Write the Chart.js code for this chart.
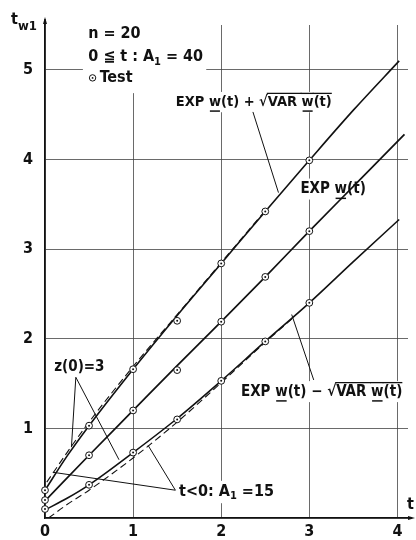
<!DOCTYPE html>
<html>
<head>
<meta charset="utf-8">
<script src="https://cdn.jsdelivr.net/npm/chart.js@4.4.0/dist/chart.umd.min.js"></script>
<style>
  html, body { margin: 0; padding: 0; background: #fff; }
  #wrap { width: 416px; height: 540px; }
</style>
</head>
<body>
<div id="wrap"><canvas id="chart" width="416" height="540"></canvas></div>
<script>
// curve samples
const tSolid = [0, 0.25, 0.5, 1, 1.5, 2, 2.5, 3, 3.5, 4.02];
const upperSolid = [0.31, 0.69, 1.03, 1.66, 2.26, 2.84, 3.42, 3.99, 4.55, 5.10];
const lowerSolid = [0.09, 0.22, 0.37, 0.73, 1.11, 1.53, 1.97, 2.40, 2.86, 3.33];
const tMid = [0, 0.5, 1, 1.5, 2, 2.5, 3, 3.5, 4.08];
const midSolid = [0.19, 0.70, 1.20, 1.70, 2.19, 2.69, 3.20, 3.70, 4.28];

// t<0 : A1 = 15 (dashed)
const tUpperDash = [0.02, 0.25, 0.5, 1, 1.5, 2, 2.5];
const upperDash = [0.40, 0.73, 1.07, 1.69, 2.27, 2.85, 3.43];
const tLowerDash = [0.04, 0.25, 0.5, 1, 1.5, 2, 2.5, 2.8];
const lowerDash = [0.0, 0.15, 0.31, 0.67, 1.07, 1.51, 1.96, 2.22];

// test points
const tTest = [0, 0.5, 1, 1.5, 2, 2.5, 3];
const upperTest = [0.31, 1.03, 1.66, 2.20, 2.84, 3.42, 3.99];
const midTest = [0.20, 0.70, 1.20, 1.65, 2.19, 2.69, 3.20];
const lowerTest = [0.10, 0.37, 0.73, 1.10, 1.53, 1.97, 2.40];

const xTicks = [0, 1, 2, 3, 4];
const yTicks = [1, 2, 3, 4, 5];

const FONT = "'DejaVu Sans Condensed', 'Liberation Sans Narrow', sans-serif";

function xy(ts, ys) {
    return ts.map((t, i) => ({ x: t, y: ys[i] }));
}

const testAll = xy(tTest, upperTest).concat(xy(tTest, midTest), xy(tTest, lowerTest));

// labels: segments, u = underline, o = overline (root)
const labels = [
    { x: 2.37, y: 4.64, size: 14.5, segs: [
        { t: 'EXP ' }, { t: 'w', u: 1 }, { t: '(t) + ' }, { t: '√' },
        { t: 'VAR ', o: 1 }, { t: 'w', u: 1, o: 1 }, { t: '(t)', o: 1 }] },
    { x: 3.27, y: 3.67, size: 15, segs: [{ t: 'EXP ' }, { t: 'w', u: 1 }, { t: '(t)' }] },
    { x: 3.14, y: 1.41, size: 15, segs: [
        { t: 'EXP ' }, { t: 'w', u: 1 }, { t: '(t) − ' }, { t: '√' },
        { t: 'VAR ', o: 1 }, { t: 'w', u: 1, o: 1 }, { t: '(t)', o: 1 }] },
    { x: 0.39, y: 1.68, size: 15, segs: [{ t: 'z(0)=3' }] },
    { x: 2.06, y: 0.29, size: 16, segs: [{ t: 't<0: A' }, { t: '1', sub: 1 }, { t: ' =15' }] }
];

// leader lines [from, to] in data units
const leaders = [
    [[2.36, 4.53], [2.65, 3.63]],
    [[3.05, 1.54], [2.80, 2.27]],
    [[0.35, 1.57], [0.30, 0.79]],
    [[0.35, 1.57], [0.84, 0.65]],
    [[1.48, 0.31], [0.09, 0.51]],
    [[1.48, 0.31], [1.17, 0.81]]
];

function drawRich(ctx, lab, xs, ys, mode) {
    const size = lab.size;
    const big = `bold ${size}px ${FONT}`;
    const small = `bold ${Math.round(size * 0.7)}px ${FONT}`;
    const widths = lab.segs.map(s => {
        ctx.font = s.sub ? small : big;
        return ctx.measureText(s.t).width;
    });
    const total = widths.reduce((a, b) => a + b, 0);
    const cx = xs.getPixelForValue(lab.x);
    const cy = ys.getPixelForValue(lab.y);
    let x = cx - total / 2;
    if (mode === 'box') {
        ctx.fillStyle = '#fff';
        ctx.fillRect(x - 3, cy - size * 0.7, total + 6, size * 1.4);
        return;
    }
    ctx.fillStyle = '#111';
    ctx.strokeStyle = '#111';
    ctx.textBaseline = 'middle';
    ctx.textAlign = 'left';
    lab.segs.forEach((s, i) => {
        const w = widths[i];
        ctx.font = s.sub ? small : big;
        ctx.fillText(s.t, x, s.sub ? cy + 4 : cy);
        if (s.u) {
            ctx.lineWidth = 1.5;
            ctx.beginPath();
            ctx.moveTo(x + 1, cy + size * 0.62);
            ctx.lineTo(x + w - 1, cy + size * 0.62);
            ctx.stroke();
        }
        if (s.o) {
            ctx.lineWidth = 1.3;
            ctx.beginPath();
            ctx.moveTo(x - 1, cy - size * 0.6);
            ctx.lineTo(x + w, cy - size * 0.6);
            ctx.stroke();
        }
        x += w;
    });
}

const annot = {
    id: 'annot',
    beforeDatasetsDraw(chart) {
        const ctx = chart.ctx;
        const xs = chart.scales.x, ys = chart.scales.y;
        ctx.save();
        // blank area behind the legend text
        ctx.fillStyle = '#fff';
        const lx = xs.getPixelForValue(0.43), rx = xs.getPixelForValue(1.83);
        const ty = ys.getPixelForValue(5.6), by = ys.getPixelForValue(4.74);
        ctx.fillRect(lx, ty, rx - lx, by - ty);
        labels.forEach(l => drawRich(ctx, l, xs, ys, 'box'));
        ctx.restore();
    },
    afterDatasetsDraw(chart) {
        const ctx = chart.ctx;
        const xs = chart.scales.x, ys = chart.scales.y;
        const px = v => xs.getPixelForValue(v), py = v => ys.getPixelForValue(v);
        ctx.save();
        ctx.strokeStyle = '#111';
        ctx.lineWidth = 1;
        leaders.forEach(seg => {
            ctx.beginPath();
            ctx.moveTo(px(seg[0][0]), py(seg[0][1]));
            ctx.lineTo(px(seg[1][0]), py(seg[1][1]));
            ctx.stroke();
        });
        labels.forEach(l => drawRich(ctx, l, xs, ys, 'text'));

        // axis arrows
        const area = chart.chartArea;
        ctx.lineWidth = 1.5;
        ctx.beginPath();
        ctx.moveTo(area.left, area.top);
        ctx.lineTo(area.left, area.top - 6);
        ctx.stroke();
        ctx.fillStyle = '#111';
        ctx.beginPath();
        ctx.moveTo(area.left, area.top - 8);
        ctx.lineTo(area.left - 2, area.top - 1);
        ctx.lineTo(area.left + 2, area.top - 1);
        ctx.closePath();
        ctx.fill();
        ctx.beginPath();
        ctx.moveTo(area.right, area.bottom);
        ctx.lineTo(area.right + 4, area.bottom);
        ctx.stroke();
        ctx.beginPath();
        ctx.moveTo(area.right + 7, area.bottom);
        ctx.lineTo(area.right, area.bottom - 2);
        ctx.lineTo(area.right, area.bottom + 2);
        ctx.closePath();
        ctx.fill();

        // axis titles
        ctx.textBaseline = 'alphabetic';
        ctx.textAlign = 'left';
        ctx.font = `bold 16px ${FONT}`;
        ctx.fillText('t', px(4.11), py(0.1));
        ctx.fillText('t', 11, 24);
        ctx.font = `bold 13px ${FONT}`;
        ctx.fillText('w1', 18, 30);

        // legend block
        ctx.font = `bold 16px ${FONT}`;
        ctx.fillText('n = 20', px(0.49), py(5.36));
        ctx.fillText('0 ≦ t : A', px(0.49), py(5.10));
        let w = ctx.measureText('0 ≦ t : A').width;
        ctx.font = `bold 11px ${FONT}`;
        ctx.fillText('1', px(0.49) + w, py(5.10) + 4);
        let w1 = ctx.measureText('1').width;
        ctx.font = `bold 16px ${FONT}`;
        ctx.fillText(' = 40', px(0.49) + w + w1, py(5.10));
        ctx.fillText('Test', px(0.62), py(4.86));
        ctx.lineWidth = 1;
        ctx.beginPath();
        ctx.arc(px(0.54), py(4.91), 3.2, 0, Math.PI * 2);
        ctx.stroke();
        ctx.beginPath();
        ctx.arc(px(0.54), py(4.91), 0.9, 0, Math.PI * 2);
        ctx.fill();
        ctx.restore();
    }
};

const lineStyle = {
    showLine: true, pointRadius: 0, borderColor: '#111',
    cubicInterpolationMode: 'monotone', fill: false, order: 3
};

new Chart(document.getElementById('chart'), {
    type: 'scatter',
    data: {
        datasets: [
            Object.assign({ data: xy(tSolid, upperSolid), borderWidth: 1.6 }, lineStyle),
            Object.assign({ data: xy(tMid, midSolid), borderWidth: 1.7 }, lineStyle),
            Object.assign({ data: xy(tSolid, lowerSolid), borderWidth: 1.6 }, lineStyle),
            Object.assign({ data: xy(tUpperDash, upperDash), borderWidth: 1.1, borderDash: [7, 4] }, lineStyle),
            Object.assign({ data: xy(tLowerDash, lowerDash), borderWidth: 1.1, borderDash: [7, 4] }, lineStyle),
            {
                data: testAll, pointRadius: 3.4, pointStyle: 'circle',
                backgroundColor: '#fff', borderColor: '#111', borderWidth: 1,
                clip: false, order: 1
            },
            {
                data: testAll, pointRadius: 1, pointStyle: 'circle',
                backgroundColor: '#111', borderColor: '#111', borderWidth: 0,
                clip: false, order: 0
            }
        ]
    },
    options: {
        responsive: false,
        animation: false,
        layout: { padding: { left: 0, top: 25, right: 8, bottom: 0 } },
        plugins: { legend: { display: false }, tooltip: { enabled: false } },
        scales: {
            x: {
                type: 'linear', min: 0, max: 4.12,
                afterFit: s => { s.height = 22; },
                afterBuildTicks: s => { s.ticks = xTicks.map(v => ({ value: v })); },
                ticks: { color: '#111', padding: 4, font: { family: FONT, size: 16, weight: 'bold' }, maxRotation: 0 },
                grid: { color: '#444', lineWidth: 0.8, drawTicks: false },
                border: { color: '#111', width: 1.6 }
            },
            y: {
                type: 'linear', min: 0, max: 5.5,
                afterFit: s => { s.width = 45; },
                afterBuildTicks: s => { s.ticks = [0].concat(yTicks).map(v => ({ value: v })); },
                ticks: {
                    color: '#111', padding: 12,
                    font: { family: FONT, size: 16, weight: 'bold' },
                    callback: v => (v === 0 ? '' : v)
                },
                grid: { color: '#444', lineWidth: 0.8, drawTicks: false },
                border: { color: '#111', width: 1.6 }
            }
        }
    },
    plugins: [annot]
});
</script>
</body>
</html>
